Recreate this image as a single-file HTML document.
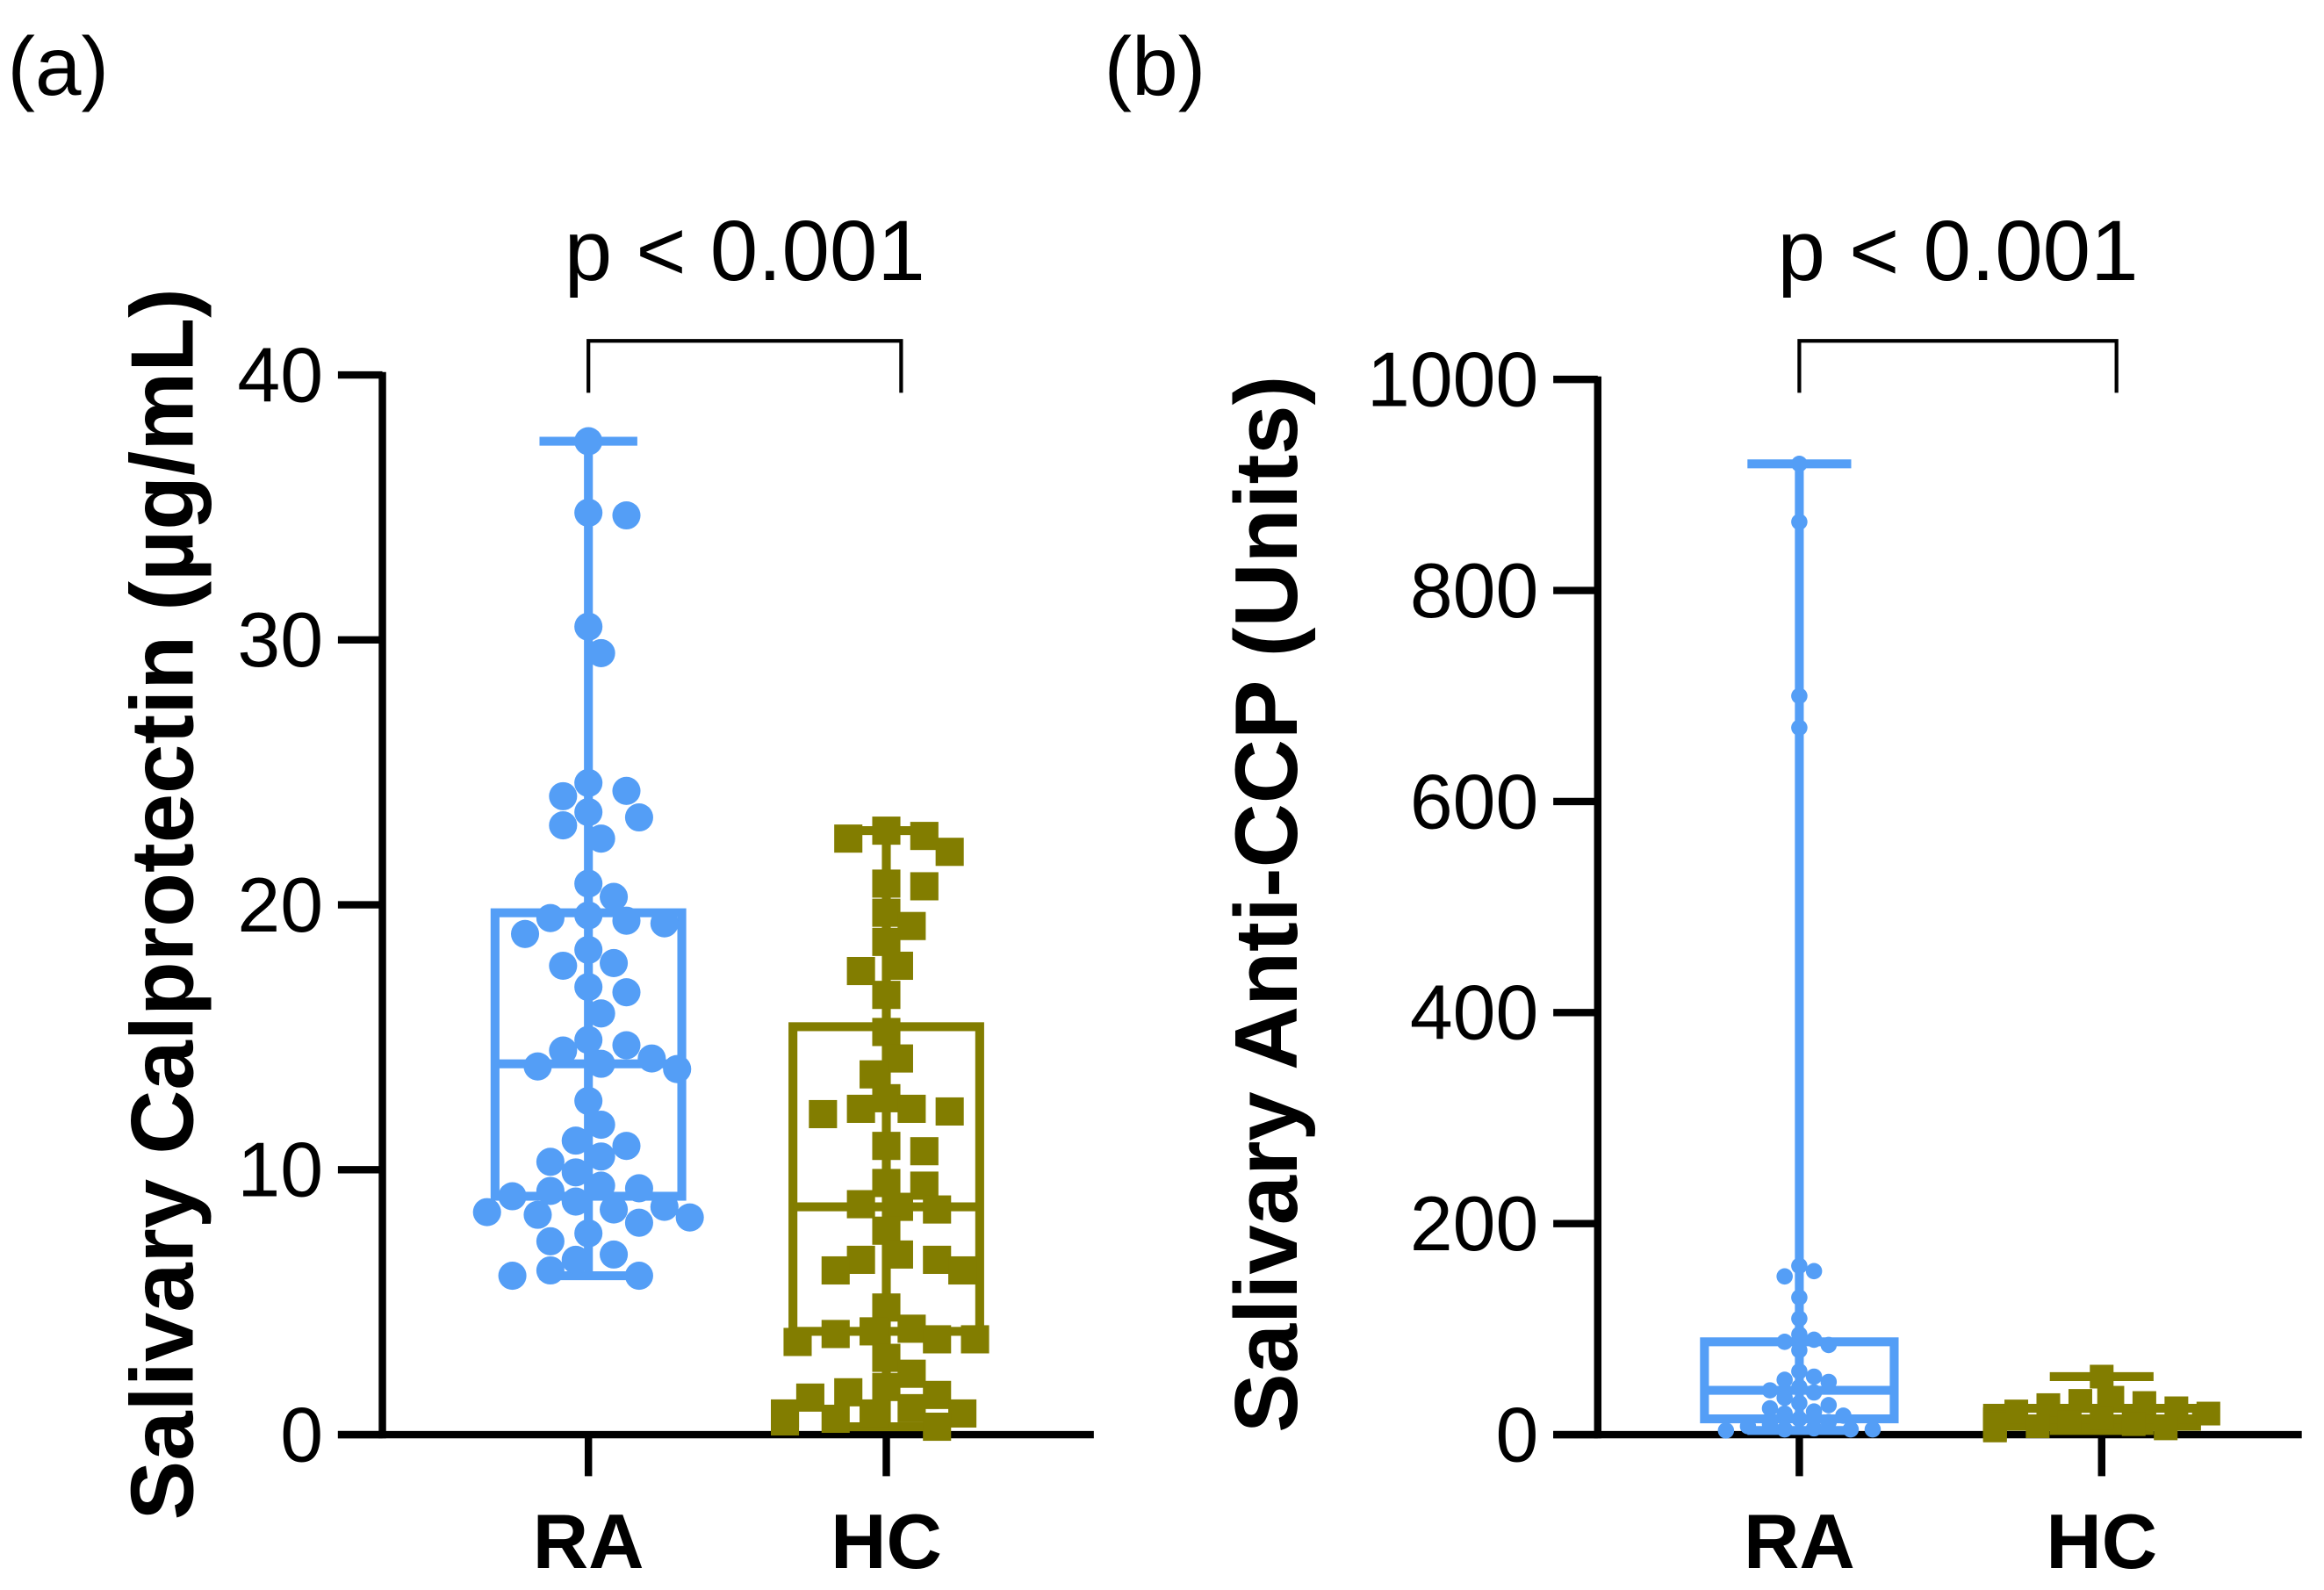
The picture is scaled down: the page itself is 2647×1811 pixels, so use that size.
<!DOCTYPE html>
<html><head><meta charset="utf-8"><style>
html,body{margin:0;padding:0;background:#fff;}
svg{display:block;}
text{font-family:"Liberation Sans",Arial,sans-serif;}
</style></head><body>
<svg id="chart" width="2647" height="1811" viewBox="0 0 1568 1072.8" preserveAspectRatio="none" xmlns="http://www.w3.org/2000/svg">
<text x="5" y="64" font-size="56">(a)</text>
<text x="745" y="64" font-size="56">(b)</text>
<g id="pa"></g>
<g id="pb"></g>
</svg>
<script>
// Panel A data
const categoriesA = ["RA","HC"];
const ticksA = [0,10,20,30,40];
const raCalpro = [37.5,34.8,34.7,30.5,29.5,24.6,24.3,24.1,23.5,23.3,23.0,22.5,20.8,20.3,19.6,19.5,19.4,19.3,18.9,18.3,17.8,17.7,16.9,16.7,15.9,14.9,14.7,14.5,14.2,14.0,13.9,13.8,12.6,11.7,11.1,10.9,10.5,10.3,9.9,9.4,9.3,9.2,9.0,8.8,8.6,8.5,8.4,8.3,8.2,8.0,7.6,7.3,6.8,6.6,6.2,6.0,6.0];
const hcCalpro = [22.8,22.6,22.5,22.0,20.8,20.7,19.7,19.2,18.6,17.7,17.5,16.6,15.2,14.2,13.6,12.7,12.3,12.3,12.2,12.1,10.9,10.7,9.5,9.4,8.7,8.6,8.5,7.7,6.8,6.6,6.6,6.2,6.2,4.8,4.0,3.9,3.8,3.6,3.6,3.5,2.9,2.3,1.8,1.6,1.5,1.4,1.0,0.8,0.8,0.8,0.6,0.5,0.3];
const raBoxA = [6.0,9.0,14.0,19.7,37.5];
const hcBoxA = [0.3,3.9,8.6,15.4,22.8];
// Panel B data
const categoriesB = ["RA","HC"];
const ticksB = [0,200,400,600,800,1000];
const raCCP = [920,865,700,670,160,155,150,130,110,95,90,88,85,80,60,55,52,50,45,42,40,35,30,28,25,22,20,18,15,12,10,8,6,5,5,5,4];
const hcCCP = [55,35,32,30,28,25,22,20,18,16,15,14,12,12,10,10,8,8,6,5,4];
const raBoxB = [4,15,42,88,920];
const hcBoxB = [4,8,15,25,55];

const NS="http://www.w3.org/2000/svg";
const BLUE="#549ef6", OLIVE="#827d00";
function mk(parent,tag,attrs){const e=document.createElementNS(NS,tag);for(const k in attrs)e.setAttribute(k,attrs[k]);parent.appendChild(e);return e;}

function swarm(vals,cx,yf,r,maxOff){
  const placed=[];const out=[];
  vals.forEach(v=>{
    const y=yf(v);let best=0;
    for(let k=0;k<60;k++){
      const off=(k%2?1:-1)*Math.ceil(k/2)*r*0.9;
      if(Math.abs(off)>maxOff)continue;
      if(placed.every(p=>Math.hypot(p[0]-(cx+off),p[1]-y)>=2*r*0.95)){best=off;break;}
      best=off;
    }
    placed.push([cx+best,y]);out.push([cx+best,y]);
  });
  return out;
}

function panel(g,o){
  const yf=v=>o.y0-(v-o.min)/(o.max-o.min)*(o.y0-o.yTop);
  let e=mk(g,"line",{x1:o.ax,y1:o.yTop-2,x2:o.ax,y2:o.y0+2.5,stroke:"#000","stroke-width":5});
  
  e=mk(g,"line",{x1:o.ax-30,y1:o.y0,x2:o.xEnd,y2:o.y0,stroke:"#000","stroke-width":5});
  
  o.ticks.forEach(t=>{
    const y=yf(t);
    const l=mk(g,"line",{x1:o.ax-30,y1:y,x2:o.ax,y2:y,stroke:"#000","stroke-width":5});
    
    const tx=mk(g,"text",{x:o.ax-40,y:y+18,"font-size":52,"text-anchor":"end"});tx.textContent=t;
    
  });
  const yt=mk(g,"text",{x:0,y:0,"font-size":o.titleSize,"font-weight":"bold","text-anchor":"middle",transform:`translate(${o.titleX},${o.titleY}) rotate(-90)`});
  yt.textContent=o.title;
  o.cats.forEach((c,i)=>{
    const x=o.cx[i];
    const l=mk(g,"line",{x1:x,y1:o.y0,x2:x,y2:o.y0+28,stroke:"#000","stroke-width":5});
    
    const t=mk(g,"text",{x:x,y:o.y0+90,"font-size":52,"font-weight":"bold","text-anchor":"middle"});t.textContent=c;
    
  });
  o.groups.forEach((gr,i)=>{
    const cx=o.cx[i];const b=gr.box;const col=gr.col;
    const gg=mk(g,"g",{});
    
    const hw=o.boxW/2,cw=o.capW/2;
    let w=mk(gg,"line",{x1:cx,y1:yf(b[0]),x2:cx,y2:yf(b[4]),stroke:col,"stroke-width":6});
    
    [b[0],b[4]].forEach(v=>{const c=mk(gg,"line",{x1:cx-cw,y1:yf(v),x2:cx+cw,y2:yf(v),stroke:col,"stroke-width":6});
      });
    const r=mk(gg,"rect",{x:cx-hw,y:yf(b[3]),width:o.boxW,height:yf(b[1])-yf(b[3]),fill:"none",stroke:col,"stroke-width":6});
    
    const m=mk(gg,"line",{x1:cx-hw,y1:yf(b[2]),x2:cx+hw,y2:yf(b[2]),stroke:col,"stroke-width":6});
    
    const pts=swarm(gr.vals,cx,yf,gr.r,o.boxW/2+8);
    pts.forEach(p=>{
      let d;
      if(gr.shape==="circle") d=mk(gg,"circle",{cx:p[0],cy:p[1],r:gr.r,fill:col});
      else d=mk(gg,"rect",{x:p[0]-gr.r,y:p[1]-gr.r,width:2*gr.r,height:2*gr.r,fill:col});
      
    });
  });
  const br=mk(g,"path",{d:`M${o.cx[0]},265 V230 H${o.cx[1]+10} V265`,fill:"none",stroke:"#000","stroke-width":2.5});
  
  const pt=mk(g,"text",{x:(o.cx[0]+o.cx[1]+10)/2,y:189,"font-size":58,"text-anchor":"middle"});pt.textContent="p < 0.001";
  
}

panel(document.getElementById("pa"),{min:0,max:40,y0:968,yTop:253,ax:258,xEnd:738,ticks:ticksA,cats:categoriesA,cx:[397,598],
  title:"Salivary Calprotectin (µg/mL)",titleSize:60,titleX:130,titleY:610,boxW:126,capW:66,
  groups:[{vals:raCalpro,box:raBoxA,col:BLUE,shape:"circle",r:9.5},{vals:hcCalpro,box:hcBoxA,col:OLIVE,shape:"square",r:9.5}]});
panel(document.getElementById("pb"),{min:0,max:1000,y0:968,yTop:256,ax:1078,xEnd:1553,ticks:ticksB,cats:categoriesB,cx:[1214,1418],
  title:"Salivary Anti-CCP (Units)",titleSize:60,titleX:875,titleY:610,boxW:128,capW:70,
  groups:[{vals:raCCP,box:raBoxB,col:BLUE,shape:"circle",r:5.5},{vals:hcCCP,box:hcBoxB,col:OLIVE,shape:"square",r:8}]});
</script>
</body></html>
